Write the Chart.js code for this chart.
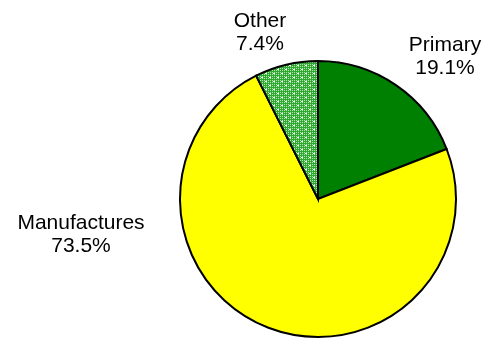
<!DOCTYPE html>
<html>
<head>
<meta charset="utf-8">
<script src="https://cdn.jsdelivr.net/npm/chart.js@4.4.1/dist/chart.umd.min.js"></script>
<style>
  html, body { margin: 0; padding: 0; background: #fff; }
  #wrap { width: 485px; height: 338px; position: relative; }
</style>
</head>
<body>
<div id="wrap"><canvas id="chart" width="485" height="338"></canvas></div>
<script>
const categories = ['Primary', 'Manufactures', 'Other'];
const shares = [19.1, 73.5, 7.4];
const sliceLabels = ['19.1%', '73.5%', '7.4%'];

// label anchor offsets from the pie centre, per slice
const labelOffsets = [[127, -154], [-237, 24], [-58, -178]];

function makeConfetti() {
    const c = document.createElement('canvas');
    c.width = 8;
    c.height = 8;
    const g = c.getContext('2d');
    g.fillStyle = '#2ea82e';
    g.fillRect(0, 0, 8, 8);
    g.fillStyle = '#b4e6b4';
    for (let y = 0; y < 8; y += 2) {
        for (let x = 0; x < 8; x += 2) {
            g.fillRect(x, y, 1, 1);
        }
    }
    g.fillStyle = '#ffffff';
    g.fillRect(1, 1, 2, 1);
    g.fillRect(5, 5, 2, 1);
    return g.createPattern(c, 'repeat');
}

const ctx = document.getElementById('chart').getContext('2d');

const labelPlugin = {
    id: 'sliceLabels',
    afterDraw(chart) {
        const meta = chart.getDatasetMeta(0);
        const c = chart.ctx;
        c.save();
        c.font = '21px "Liberation Sans", Arial, sans-serif';
        c.fillStyle = '#000';
        c.textAlign = 'center';
        c.textBaseline = 'middle';
        meta.data.forEach((arc, i) => {
            const x = arc.x + labelOffsets[i][0];
            const y = arc.y + labelOffsets[i][1];
            c.fillText(categories[i], x, y);
            c.fillText(sliceLabels[i], x, y + 23);
        });
        c.restore();
    }
};

new Chart(ctx, {
    type: 'pie',
    data: {
        labels: categories,
        datasets: [{
            data: shares,
            backgroundColor: ['#008000', '#ffff00', makeConfetti()],
            borderColor: '#000',
            borderWidth: 2,
            borderJoinStyle: 'miter'
        }]
    },
    options: {
        responsive: false,
        animation: false,
        radius: 138,
        layout: { padding: { left: 151, right: 0, top: 60, bottom: 0 } },
        plugins: {
            legend: { display: false },
            tooltip: { enabled: false }
        }
    },
    plugins: [labelPlugin]
});
</script>
</body>
</html>
